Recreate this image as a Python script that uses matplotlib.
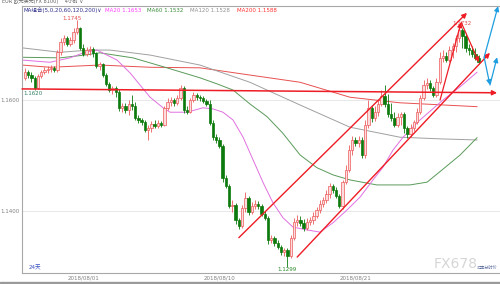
import numpy as np
import matplotlib
matplotlib.use("Agg")
import matplotlib.pyplot as plt

plt.rcParams['font.family'] = ['DejaVu Sans', 'Noto Sans CJK SC']

# ---------------- data (EUR/USD 4h candles) ----------------
opens = [1.1640,1.1650,1.1645,1.1640,1.1622,1.1643,1.1650,1.1654,1.1656,1.1658,
1.1654,1.1686,1.1704,1.1712,1.1701,1.1708,1.1722,1.1730,1.1694,1.1683,
1.1690,1.1692,1.1685,1.1661,1.1665,1.1645,1.1629,1.1618,1.1622,1.1614,
1.1586,1.1589,1.1582,1.1593,1.1589,1.1568,1.1564,1.1560,1.1546,1.1550,
1.1557,1.1553,1.1559,1.1555,1.1586,1.1596,1.1600,1.1595,1.1604,1.1622,
1.1582,1.1578,1.1600,1.1609,1.1605,1.1604,1.1598,1.1593,1.1559,1.1533,
1.1528,1.1517,1.1460,1.1445,1.1409,1.1411,1.1384,1.1373,1.1406,1.1424,
1.1398,1.1409,1.1413,1.1409,1.1395,1.1388,1.1348,1.1352,1.1343,1.1335,
1.1326,1.1330,1.1319,1.1352,1.1380,1.1384,1.1379,1.1370,1.1380,1.1384,
1.1391,1.1402,1.1413,1.1420,1.1431,1.1445,1.1438,1.1427,1.1409,1.1452,
1.1474,1.1510,1.1528,1.1523,1.1528,1.1501,1.1555,1.1586,1.1568,1.1578,
1.1593,1.1607,1.1593,1.1575,1.1568,1.1555,1.1569,1.1575,1.1550,1.1539,
1.1550,1.1560,1.1578,1.1604,1.1627,1.1631,1.1622,1.1609,1.1632,1.1676,
1.1679,1.1672,1.1690,1.1697,1.1712,1.1726,1.1715,1.1694,1.1690,1.1683,
1.1676]

highs = [1.1658,1.1654,1.1650,1.1643,1.1647,1.1654,1.1659,1.1661,1.1663,1.1661,
1.1690,1.1712,1.1717,1.1715,1.1713,1.1730,1.1744,1.1731,1.1701,1.1695,
1.1697,1.1695,1.1686,1.1668,1.1667,1.1649,1.1632,1.1625,1.1625,1.1620,
1.1595,1.1595,1.1600,1.1609,1.1596,1.1573,1.1568,1.1564,1.1555,1.1562,
1.1564,1.1564,1.1562,1.1589,1.1604,1.1605,1.1604,1.1609,1.1627,1.1625,
1.1589,1.1604,1.1614,1.1613,1.1609,1.1607,1.1602,1.1600,1.1564,1.1539,
1.1533,1.1521,1.1465,1.1449,1.1420,1.1415,1.1388,1.1411,1.1434,1.1427,
1.1416,1.1420,1.1418,1.1413,1.1400,1.1391,1.1357,1.1355,1.1348,1.1339,
1.1334,1.1334,1.1357,1.1388,1.1393,1.1391,1.1386,1.1388,1.1389,1.1398,
1.1407,1.1420,1.1425,1.1438,1.1451,1.1449,1.1443,1.1431,1.1456,1.1483,
1.1519,1.1535,1.1533,1.1535,1.1533,1.1564,1.1600,1.1589,1.1589,1.1600,
1.1618,1.1627,1.1611,1.1595,1.1578,1.1577,1.1578,1.1578,1.1553,1.1557,
1.1564,1.1586,1.1609,1.1636,1.1640,1.1636,1.1625,1.1640,1.1686,1.1690,
1.1686,1.1697,1.1703,1.1717,1.1731,1.1730,1.1721,1.1701,1.1697,1.1694,
1.1681]

lows = [1.1636,1.1640,1.1632,1.1618,1.1620,1.1640,1.1647,1.1649,1.1650,1.1650,
1.1650,1.1681,1.1699,1.1697,1.1697,1.1703,1.1719,1.1690,1.1679,1.1679,
1.1681,1.1677,1.1658,1.1654,1.1641,1.1625,1.1614,1.1611,1.1605,1.1580,
1.1578,1.1577,1.1573,1.1582,1.1564,1.1559,1.1555,1.1542,1.1528,1.1542,
1.1550,1.1550,1.1551,1.1553,1.1582,1.1589,1.1589,1.1591,1.1600,1.1577,
1.1575,1.1577,1.1596,1.1600,1.1598,1.1595,1.1589,1.1555,1.1528,1.1523,
1.1514,1.1452,1.1442,1.1406,1.1398,1.1377,1.1368,1.1370,1.1398,1.1393,
1.1395,1.1404,1.1404,1.1391,1.1384,1.1341,1.1343,1.1337,1.1332,1.1321,
1.1319,1.1299,1.1316,1.1348,1.1373,1.1373,1.1364,1.1366,1.1375,1.1377,
1.1388,1.1397,1.1407,1.1415,1.1424,1.1433,1.1424,1.1406,1.1404,1.1449,
1.1470,1.1501,1.1517,1.1515,1.1496,1.1496,1.1550,1.1560,1.1562,1.1571,
1.1589,1.1587,1.1569,1.1562,1.1551,1.1551,1.1555,1.1541,1.1532,1.1533,
1.1544,1.1557,1.1575,1.1600,1.1620,1.1616,1.1605,1.1605,1.1629,1.1668,
1.1668,1.1668,1.1676,1.1686,1.1704,1.1694,1.1686,1.1681,1.1677,1.1672,
1.1665]

closes = [1.1650,1.1645,1.1640,1.1622,1.1643,1.1650,1.1654,1.1656,1.1658,1.1654,
1.1686,1.1704,1.1712,1.1701,1.1708,1.1722,1.1730,1.1694,1.1683,1.1690,
1.1692,1.1685,1.1661,1.1665,1.1645,1.1629,1.1618,1.1622,1.1614,1.1586,
1.1589,1.1582,1.1593,1.1589,1.1568,1.1564,1.1560,1.1546,1.1550,1.1557,
1.1553,1.1559,1.1555,1.1586,1.1596,1.1600,1.1595,1.1604,1.1622,1.1582,
1.1578,1.1600,1.1609,1.1605,1.1604,1.1598,1.1593,1.1559,1.1533,1.1528,
1.1517,1.1460,1.1445,1.1409,1.1411,1.1384,1.1373,1.1406,1.1424,1.1398,
1.1409,1.1413,1.1409,1.1395,1.1388,1.1348,1.1352,1.1343,1.1335,1.1326,
1.1330,1.1319,1.1352,1.1380,1.1384,1.1379,1.1370,1.1380,1.1384,1.1391,
1.1402,1.1413,1.1420,1.1431,1.1445,1.1438,1.1427,1.1409,1.1452,1.1474,
1.1510,1.1528,1.1523,1.1528,1.1501,1.1555,1.1586,1.1568,1.1578,1.1593,
1.1607,1.1593,1.1575,1.1568,1.1555,1.1569,1.1575,1.1550,1.1539,1.1550,
1.1560,1.1578,1.1604,1.1627,1.1631,1.1622,1.1609,1.1632,1.1676,1.1679,
1.1672,1.1690,1.1697,1.1712,1.1726,1.1715,1.1694,1.1690,1.1683,1.1676,
1.1668]

# moving averages sampled along the candle index
ma20_idx = [-0.9,7.7,13.9,18.5,22.2,28.4,32.4,38.6,42.6,44.8,50.0,54.9,58.0,61.1,64.2,67.3,70.4,73.5,
            76.5,79.6,82.7,87.0,91.0,95.1,99.4,103.4,107.4,110.5,113.6,116.7,121.9,129.0,134.3,139.5]
ma20_val = [1.1672,1.1668,1.1676,1.1686,1.1690,1.1672,1.1649,1.1605,1.1586,1.1578,1.1578,1.1586,1.1584,1.1578,
            1.1564,1.1533,1.1492,1.1451,1.1415,1.1388,1.1371,1.1366,1.1362,1.1379,1.1402,1.1425,1.1456,1.1479,
            1.1510,1.1533,1.1564,1.1600,1.1624,1.1650]
ma60_idx = [-0.9,10.8,18.5,23.1,33.3,43.8,54.0,59.3,64.2,69.4,74.7,79.6,84.9,90.1,95.1,100.3,108.6,118.8,
            124.1,128.7,134.3,139.5]
ma60_val = [1.1677,1.1676,1.1681,1.1685,1.1676,1.1658,1.1640,1.1629,1.1618,1.1593,1.1570,1.1540,1.1501,
            1.1478,1.1465,1.1456,1.1447,1.1447,1.1452,1.1474,1.1501,1.1532]
ma120_idx = [-0.9,10.8,20.1,26.2,38.6,54.0,69.4,84.9,100.3,115.7,128.1,139.5]
ma120_val = [1.1694,1.1686,1.1690,1.1690,1.1681,1.1663,1.1632,1.1591,1.1551,1.1533,1.1530,1.1528]
ma200_idx = [-0.9,7.7,23.1,38.6,54.0,69.4,84.9,100.3,115.7,139.5]
ma200_val = [1.1663,1.1659,1.1663,1.1659,1.1658,1.1645,1.1632,1.1605,1.1595,1.1588]

tick_idx = [18, 60, 102]
tick_labels = ['2018/08/01', '2018/08/10', '2018/08/21']
ytick_vals = [1.14, 1.16]

# hand-drawn analysis lines: (index, price) start and end
hline = [(-0.9, 1.1620), (145.7, 1.1613)]
chan_up = [(66.0, 1.1352), (136.4, 1.1757)]
chan_low = [(84.0, 1.1317), (143.5, 1.1685)]
leg_up = [(128.1, 1.1600), (134.6, 1.1740)]
leg_down = [(134.6, 1.1740), (140.1, 1.1668)]
blue_legs = [[(141.7, 1.1677), (146.0, 1.1769)],
             [(141.7, 1.1677), (143.5, 1.1627)],
             [(143.5, 1.1627), (145.7, 1.1677)]]

# ---------------- figure ----------------
W, H = 500, 284
fig = plt.figure(figsize=(W / 100, H / 100), dpi=100)
fig.patch.set_facecolor('white')
ax = fig.add_axes([22 / W, 11 / H, 478 / W, 267 / H])
ax.set_xlim(-0.93, 146.6)
ax.set_ylim(1.12883, 1.17694)

o = np.array(opens); h = np.array(highs); l = np.array(lows); c = np.array(closes)
x = np.arange(len(c))
up = c >= o
red_edge = '#ec5a5a'
red_face = '#fcdcdc'
green = '#0c7a0c'
wick_col = np.where(up, red_edge, green)
ax.vlines(x, l, h, colors=wick_col, lw=0.6, zorder=3)
body = np.abs(c - o)
body = np.where(body < 0.00005, 0.00005, body)
ax.bar(x, body, bottom=np.minimum(o, c), width=0.72,
       color=np.where(up, red_face, green), edgecolor=wick_col, lw=0.5, zorder=4)

# grid lines
for v in ytick_vals:
    ax.axhline(v, color='#e4e4e4', lw=0.6, zorder=0)

# moving averages
ax.plot(ma200_idx, ma200_val, color='#e85050', lw=0.7, zorder=2)
ax.plot(ma120_idx, ma120_val, color='#a0a0a0', lw=0.7, zorder=2)
ax.plot(ma60_idx, ma60_val, color='#5a9a5a', lw=0.7, zorder=2)
ax.plot(ma20_idx, ma20_val, color='#e070e0', lw=0.7, zorder=2)

red = '#ee1c25'
blue = '#1e9ee0'

def arrow(seg, color, lw=1.0, head=True):
    (x0, y0), (x1, y1) = seg
    ax.annotate('', xy=(x1, y1), xytext=(x0, y0),
                arrowprops=dict(arrowstyle='-|>' if head else '-', color=color, lw=lw,
                                mutation_scale=7, shrinkA=0, shrinkB=0),
                zorder=6, annotation_clip=False)

arrow(hline, red, 1.1)
arrow(chan_up, red, 1.0)
arrow(chan_low, red, 1.0)
arrow(leg_up, red, 0.9)
arrow(leg_down, red, 0.9)
for seg in blue_legs:
    arrow(seg, blue, 0.9)

# price labels
ax.text(14.5, 1.17476, '1.1745', fontsize=4, color='#e04848', ha='center', va='center')
ax.text(2.6, 1.16126, '1.1620', fontsize=4, color='#2f8060', ha='center', va='center')
ax.text(80.9, 1.1294, '1.1299', fontsize=4, color='#2a8a2a', ha='center', va='center')
ax.text(134.9, 1.1737, '1.1732', fontsize=4, color='#e04848', ha='center', va='center', zorder=5)
ax.text(0.013, 0.019, '24天', transform=ax.transAxes, fontsize=4, color='#3a50c0',
        ha='left', va='center')

# axes styling
for s in ['left', 'bottom', 'top']:
    ax.spines[s].set_color('#a8a8a8')
    ax.spines[s].set_linewidth(0.8)
ax.spines['right'].set_visible(False)
ax.set_yticks(ytick_vals)
ax.set_yticklabels(['%.4f' % v for v in ytick_vals])
ax.set_xticks(tick_idx)
ax.set_xticklabels(tick_labels)
ax.tick_params(length=0, labelsize=4, colors='#808080', pad=2)

# header texts
def ftext(px, py, s, color, size=4, **kw):
    fig.text(px / W, 1 - py / H, s, color=color, fontsize=size, ha='left', va='center', **kw)

ftext(2, 1.5, 'EUR 欧元美元(FX 8100)    4小时 ∨', '#606060', 3.6)
ftext(23, 10, 'MA组合(5,0,20,60,120,200)∨', '#30308a', 4)
ftext(105, 10, 'MA20 1.1653', '#ff40ff', 4)
ftext(147, 10, 'MA60 1.1532', '#3a8a3a', 4)
ftext(190, 10, 'MA120 1.1528', '#909090', 4)
ftext(237, 10, 'MA200 1.1588', '#ff3030', 4)

# watermark
ftext(434, 264, 'FX678', '#d6d6d6', 10)
ftext(477, 268, '汇率分时价', '#6070a0', 3.0)

# bottom bar
fig.patches.append(plt.Rectangle((0, 0), 1, 2.5 / H, transform=fig.transFigure,
                                 color='#9a9a9a', zorder=0))

fig.savefig('out.png', dpi=100)
